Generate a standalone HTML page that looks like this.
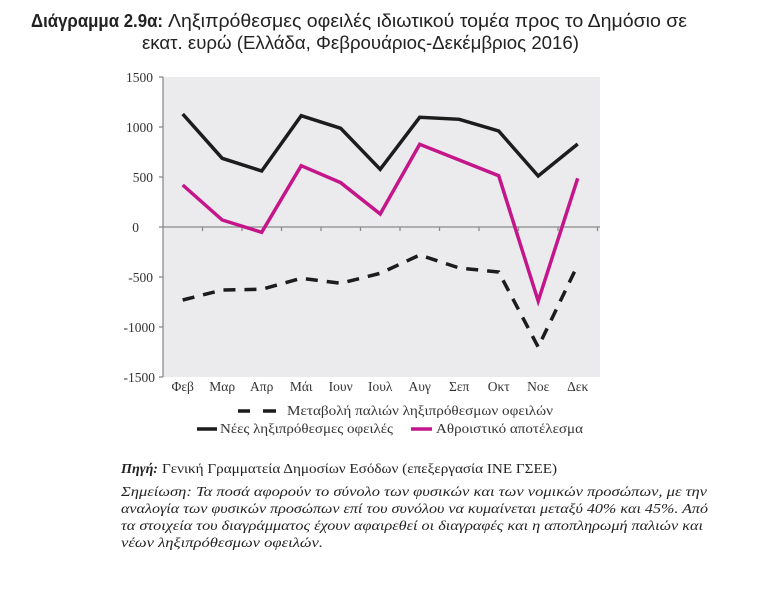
<!DOCTYPE html>
<html><head><meta charset="utf-8"><style>
html,body{margin:0;padding:0;background:#fff;}
svg{display:block;}
</style></head><body>
<svg width="768" height="593" viewBox="0 0 768 593" xmlns="http://www.w3.org/2000/svg">
<rect width="768" height="593" fill="#fff"/>
<!-- Title -->
<g font-family="'Liberation Sans', sans-serif" font-size="18.5" fill="#222">
<text x="31" y="27" font-weight="bold" textLength="132" lengthAdjust="spacingAndGlyphs">Διάγραμμα 2.9α:</text>
<text x="168" y="27" textLength="519" lengthAdjust="spacingAndGlyphs">Ληξιπρόθεσμες οφειλές ιδιωτικού τομέα προς το Δημόσιο σε</text>
<text x="142" y="49" textLength="437" lengthAdjust="spacingAndGlyphs">εκατ. ευρώ (Ελλάδα, Φεβρουάριος-Δεκέμβριος 2016)</text>
</g>
<!-- plot area -->
<rect x="163" y="77" width="437" height="300" fill="#ebebed"/>
<g stroke="#8a8a8a" stroke-width="1.3" fill="none">
<line x1="163" y1="77" x2="163" y2="377"/>
<line x1="159" y1="77" x2="163" y2="77"/>
<line x1="159" y1="127" x2="163" y2="127"/>
<line x1="159" y1="177" x2="163" y2="177"/>
<line x1="159" y1="227" x2="163" y2="227"/>
<line x1="159" y1="277" x2="163" y2="277"/>
<line x1="159" y1="327" x2="163" y2="327"/>
<line x1="159" y1="377" x2="163" y2="377"/>
<line x1="163" y1="227" x2="600" y2="227"/>
<path d="M202.5 227v4M242 227v4M281.5 227v4M321 227v4M360.5 227v4M400 227v4M439.5 227v4M479 227v4M518.5 227v4M558 227v4M597.5 227v4"/>
</g>
<!-- y labels -->
<g font-family="'Liberation Serif', serif" font-size="13.5" fill="#333" text-anchor="end">
<text x="153" y="82">1500</text>
<text x="153" y="132">1000</text>
<text x="153" y="182">500</text>
<text x="139" y="232">0</text>
<text x="153" y="282">-500</text>
<text x="155" y="332">-1000</text>
<text x="155" y="382">-1500</text>
</g>
<!-- x labels -->
<g font-family="'Liberation Serif', serif" font-size="13.5" fill="#333" text-anchor="middle">
<text x="182.7" y="391">Φεβ</text>
<text x="222.2" y="391">Μαρ</text>
<text x="261.7" y="391">Απρ</text>
<text x="301.2" y="391">Μάι</text>
<text x="340.7" y="391">Ιουν</text>
<text x="380.2" y="391">Ιουλ</text>
<text x="419.7" y="391">Αυγ</text>
<text x="459.2" y="391">Σεπ</text>
<text x="498.7" y="391">Οκτ</text>
<text x="538.2" y="391">Νοε</text>
<text x="577.7" y="391">Δεκ</text>
</g>
<!-- series -->
<polyline fill="none" stroke="#1c1c1c" stroke-width="3.5" stroke-linejoin="miter" points="182.7,114 222.2,158.3 261.7,171 301.2,115.7 340.7,128.3 380.2,169.3 419.7,117.3 459.2,119.3 498.7,131 538.2,176 577.7,144"/>
<polyline fill="none" stroke="#c4168a" stroke-width="3.5" points="182.7,185 222.2,220 261.7,232.3 301.2,165.7 340.7,182.7 380.2,214 419.7,144.3 459.2,160 498.7,175.7 538.2,301 577.7,178.3"/>
<polyline fill="none" stroke="#1c1c1c" stroke-width="3.5" stroke-dasharray="12,9" points="182.7,300 222.2,290 261.7,289.3 301.2,278.3 340.7,283.3 380.2,273.3 419.7,255 459.2,268 498.7,272 538.2,347 577.7,265"/>
<!-- legend -->
<g stroke-width="3.5">
<line x1="238" y1="411" x2="250" y2="411" stroke="#1c1c1c"/>
<line x1="263" y1="411" x2="276" y2="411" stroke="#1c1c1c"/>
<line x1="197" y1="429" x2="217" y2="429" stroke="#1c1c1c"/>
<line x1="411" y1="429" x2="432" y2="429" stroke="#c4168a"/>
</g>
<g font-family="'Liberation Serif', serif" font-size="13.5" fill="#333">
<text x="287" y="415" textLength="266" lengthAdjust="spacingAndGlyphs">Μεταβολή παλιών ληξιπρόθεσμων οφειλών</text>
<text x="220" y="433" textLength="173" lengthAdjust="spacingAndGlyphs">Νέες ληξιπρόθεσμες οφειλές</text>
<text x="436" y="433" textLength="147" lengthAdjust="spacingAndGlyphs">Αθροιστικό αποτέλεσμα</text>
</g>
<!-- source & note -->
<g font-family="'Liberation Serif', serif" font-size="13.5" fill="#222">
<text x="121" y="473" font-weight="bold" font-style="italic" textLength="37" lengthAdjust="spacingAndGlyphs">Πηγή:</text>
<text x="162" y="473" textLength="395" lengthAdjust="spacingAndGlyphs">Γενική Γραμματεία Δημοσίων Εσόδων (επεξεργασία ΙΝΕ ΓΣΕΕ)</text>
<g font-style="italic" font-size="14">
<text x="121" y="496" textLength="586" lengthAdjust="spacingAndGlyphs">Σημείωση: Τα ποσά αφορούν το σύνολο των φυσικών και των νομικών προσώπων, με την</text>
<text x="121" y="513" textLength="587" lengthAdjust="spacingAndGlyphs">αναλογία των φυσικών προσώπων επί του συνόλου να κυμαίνεται μεταξύ 40% και 45%. Από</text>
<text x="121" y="530" textLength="582" lengthAdjust="spacingAndGlyphs">τα στοιχεία του διαγράμματος έχουν αφαιρεθεί οι διαγραφές και η αποπληρωμή παλιών και</text>
<text x="121" y="547" textLength="202" lengthAdjust="spacingAndGlyphs">νέων ληξιπρόθεσμων οφειλών.</text>
</g>
</g>
</svg>
</body></html>
